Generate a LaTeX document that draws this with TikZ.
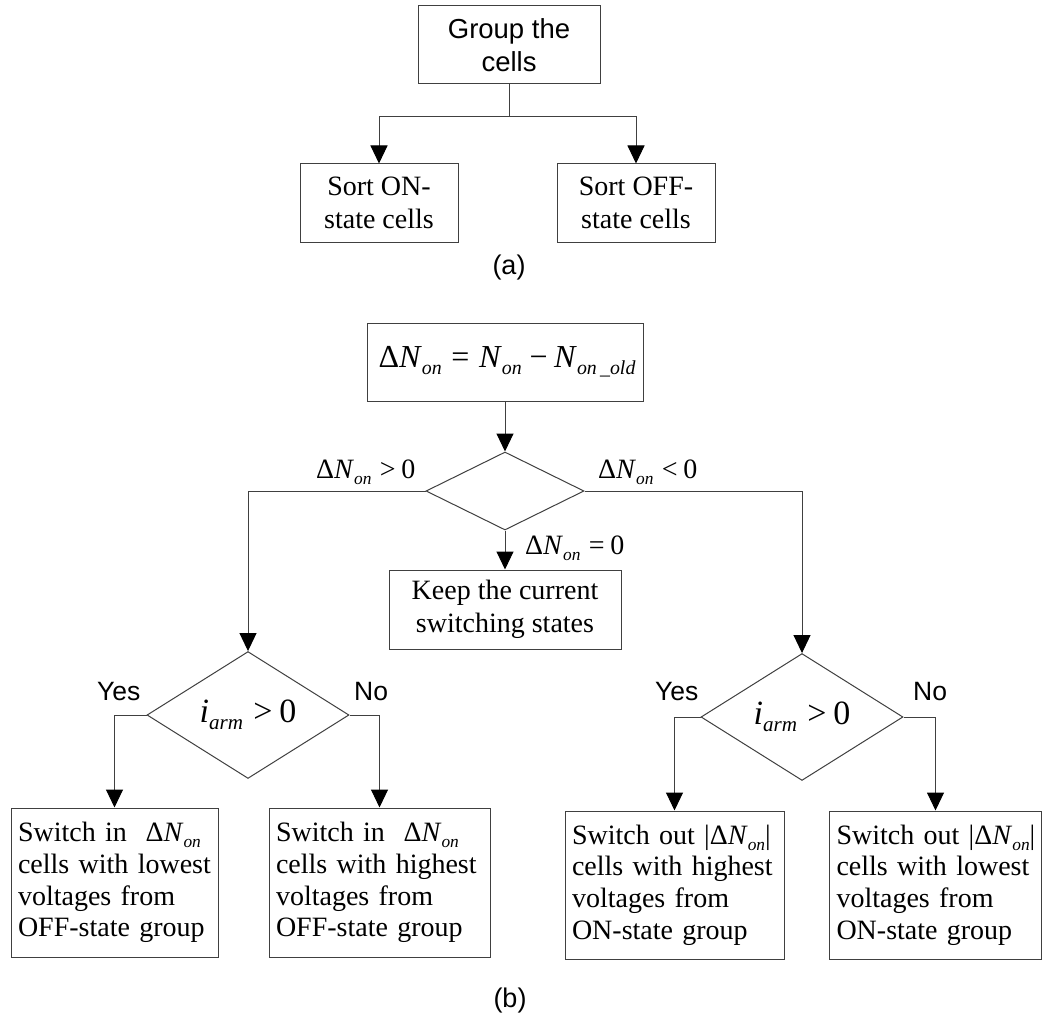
\documentclass[tikz,border=0pt]{standalone}
\usepackage{fontspec}
\setmainfont{Liberation Serif}
\newfontfamily\arialf{Liberation Sans}
\usetikzlibrary{arrows.meta,shapes.geometric}
\newcommand\sbs[1]{\raisebox{-0.22em}{\scalebox{0.62}{\itshape #1}}}
\newcommand\dN{Δ\textit{N}\sbs{on}}
\begin{document}
\begin{tikzpicture}[x=1pt,y=-1pt,
  line/.style={draw=black!75, line width=1pt},
  box/.style={line, rectangle, inner sep=0pt, align=center, font=\fontsize{28}{33}\selectfont},
  sbox/.style={line, rectangle, inner xsep=7pt, inner ysep=0pt, align=left, font=\fontsize{28}{31.7}\selectfont},
  dia/.style={line, diamond, inner sep=0pt},
  arr/.style={line, -{Triangle[length=18pt,width=17pt,color=black]}},
  lbl/.style={font=\fontsize{28}{30}\selectfont, inner sep=0pt, anchor=base west},
  sanslbl/.style={font=\arialf\fontsize{26.5}{30}\selectfont, inner sep=0pt, anchor=base west},
  captext/.style={font=\arialf\fontsize{27}{30}\selectfont, inner sep=0pt}
]
\useasboundingbox (0,0) rectangle (1043,1019);
\fill[white] (0,0) rectangle (1043,1019);

% ---------- (a) ----------
\node[box, font=\arialf\fontsize{27.5}{33}\selectfont, minimum width=182pt, minimum height=78pt] (grp) at (509,45) {Group the\\cells};
\node[box, minimum width=158pt, minimum height=78pt] (son) at (379,203) {Sort ON-\\state cells};
\node[box, minimum width=158pt, minimum height=78pt] (soff) at (636,203) {Sort OFF-\\state cells};
\coordinate (j) at (509,117);
\draw[line] (grp.south) -- (j);
\draw[arr] (j) -| (son.north);
\draw[arr] (j) -| (soff.north);
\node[captext] (capa) at (509,268) {(a)};

% ---------- (b) ----------
\node[box, font=\fontsize{32}{36}\selectfont, minimum width=276pt, minimum height=78pt, text width=276pt] (dn) at (505,362)
  {\hspace*{4pt}Δ\textit{N}\sbs{on}\hspace{0.3em}=\hspace{0.3em}\textit{N}\sbs{on}\hspace{0.25em}−\hspace{0.2em}\textit{N}\sbs{on\,\_old}};
\node[dia, minimum width=158pt, minimum height=78pt] (d1) at (505,491) {};
\node[box, minimum width=232pt, minimum height=79pt] (keep) at (505,609.5) {Keep the current\\switching states};

\node[dia, minimum width=202pt, minimum height=98pt, font=\fontsize{34}{36}\selectfont] (d2) at (248,715)
  {\textit{i}\sbs{arm}\hspace{0.3em}>\hspace{0.2em}0};
\node[dia, minimum width=202pt, minimum height=98pt, font=\fontsize{34}{36}\selectfont] (d3) at (802,717)
  {\textit{i}\sbs{arm}\hspace{0.3em}>\hspace{0.2em}0};

\node[sbox, minimum width=207pt, minimum height=149pt, text width=193pt] (b1) at (114.5,882.5)
  {\mbox{Switch in~ \dN}\\cells with lowest\\voltages from\\OFF-state group};
\node[sbox, minimum width=221pt, minimum height=149pt, text width=207pt] (b2) at (379.5,882.5)
  {\mbox{Switch in~ \dN}\\cells with highest\\voltages from\\OFF-state group};
\node[sbox, minimum width=219pt, minimum height=148pt, text width=205pt] (b3) at (674.5,885)
  {\mbox{Switch out |\dN|}\\cells with highest\\voltages from\\ON-state group};
\node[sbox, minimum width=212pt, minimum height=148pt, text width=198pt] (b4) at (935.5,885)
  {\mbox{Switch out |\dN|}\\cells with lowest\\voltages from\\ON-state group};

\draw[arr] (dn) -- (d1);
\draw[arr] (d1) -- (keep);
\draw[arr] (d1.west) -| (d2.north);
\draw[arr] (d1.east) -| (d3.north);
\draw[arr] (d2.west) -| (b1.north);
\draw[arr] (d2.east) -| (b2.north);
\draw[arr] (d3.west) -| (b3.north);
\draw[arr] (d3.east) -| (b4.north);

\node[lbl] (gt) at (316,478) {\dN\hspace{0.3em}>\hspace{0.2em}0};
\node[lbl] (lt) at (598,478) {\dN\hspace{0.3em}<\hspace{0.2em}0};
\node[lbl] (eq) at (525,554) {\dN\hspace{0.3em}=\hspace{0.2em}0};

\node[sanslbl] (y1) at (97,700) {Yes};
\node[sanslbl] (n1) at (354,700) {No};
\node[sanslbl] (y2) at (655,700) {Yes};
\node[sanslbl] (n2) at (913,700) {No};

\node[captext] (capb) at (510,1000) {(b)};
\end{tikzpicture}
\end{document}
